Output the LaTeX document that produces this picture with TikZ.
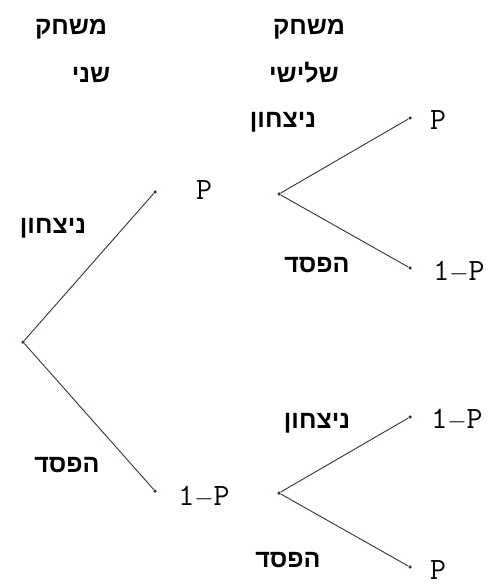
\documentclass[tikz,border=0pt]{standalone}
\usepackage{fontspec}
\setmainfont{Liberation Sans}
\newfontfamily\hebfont[Script=Hebrew]{Liberation Sans Bold}
\TeXXeTstate=1
\definecolor{edgecol}{HTML}{3A3232}
\definecolor{dotcol}{HTML}{5A1C1C}
\begin{document}
\begin{tikzpicture}[
  x=1pt,y=-1pt,
  branch/.style={draw=edgecol,line width=0.9pt},
  leafdot/.style={circle,fill=dotcol,inner sep=0pt,minimum size=3.5pt},
  heb/.style={font=\hebfont\fontsize{25}{25}\selectfont,inner sep=0pt,anchor=base},
  prob/.style={font=\ttfamily\fontsize{31}{31}\selectfont,inner sep=0pt}
]
\useasboundingbox (0,0) rectangle (495,588);
% column heads
\node[heb] (head2a) at (71,35) {\beginR משחק\endR};
\node[heb] (head2b) at (91,83) {\beginR שני\endR};
\node[heb] (head3a) at (309,35) {\beginR משחק\endR};
\node[heb] (head3b) at (304,83) {\beginR שלישי\endR};
% game two
\node[leafdot] (root) at (23,342) {};
\node[leafdot] (winA) at (155,192) {};
\node[leafdot] (loseA) at (155,491) {};
\draw[branch] (root) -- (winA);
\draw[branch] (root) -- (loseA);
\node[heb] (lblwinA) at (53,233) {\beginR ניצחון\endR};
\node[heb] (lbloseA) at (67,472) {\beginR הפסד\endR};
\node[prob] (pwinA) at (204,190) {P};
\node[prob] (ploseA) at (204,497) {1$-$P};
% game three, upper
\node[leafdot] (rootU) at (279,194) {};
\node[leafdot] (winU) at (410,118) {};
\node[leafdot] (loseU) at (410,268) {};
\draw[branch] (rootU) -- (winU);
\draw[branch] (rootU) -- (loseU);
\node[heb] (lblwinU) at (283,128) {\beginR ניצחון\endR};
\node[heb] (lbloseU) at (317,272) {\beginR הפסד\endR};
\node[prob] (pwinU) at (438,120) {P};
\node[prob] (ploseU) at (459,272) {1$-$P};
% game three, lower
\node[leafdot] (rootL) at (279,493) {};
\node[leafdot] (winL) at (410,417) {};
\node[leafdot] (loseL) at (410,567) {};
\draw[branch] (rootL) -- (winL);
\draw[branch] (rootL) -- (loseL);
\node[heb] (lblwinL) at (317,428) {\beginR ניצחון\endR};
\node[heb] (lbloseL) at (288,567) {\beginR הפסד\endR};
\node[prob] (pwinL) at (457,420) {1$-$P};
\node[prob] (ploseL) at (438,570) {P};
\end{tikzpicture}
\end{document}
